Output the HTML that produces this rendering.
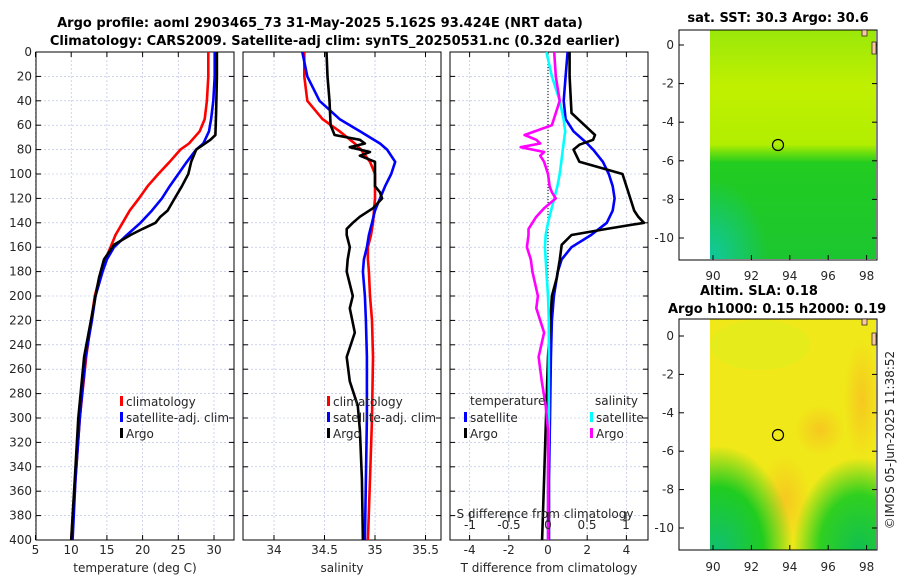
<!DOCTYPE html>
<html><head><meta charset="utf-8"><style>
body{margin:0;background:#fff;}
svg{display:block;font-family:"DejaVu Sans","Liberation Sans",sans-serif;}
.t{font-size:13px;font-weight:bold;fill:#000}
.tk{font-size:12px;fill:#262626}
.grid{stroke:#b0b8e0;stroke-width:0.6;stroke-dasharray:2,2}
</style></head><body>
<svg id="c" width="900" height="580">
<text class="t" x="320" y="27" text-anchor="middle">Argo profile: aoml 2903465_73 31-May-2025 5.162S 93.424E (NRT data)</text>
<text class="t" x="335" y="45" text-anchor="middle">Climatology: CARS2009. Satellite-adj clim: synTS_20250531.nc (0.32d earlier)</text>
<g id="plots"></g>
<defs>
<linearGradient id="sstg" x1="0" y1="0" x2="0" y2="1">
<stop offset="0" stop-color="#9ae80a"/><stop offset="0.25" stop-color="#c0f000"/><stop offset="0.5" stop-color="#b2ee00"/><stop offset="0.54" stop-color="#66dd10"/><stop offset="0.58" stop-color="#22cc20"/><stop offset="1" stop-color="#1cc630"/>
</linearGradient>
<radialGradient id="teal" cx="0" cy="1" r="0.35"><stop offset="0" stop-color="#10c8a0"/><stop offset="1" stop-color="#10c8a0" stop-opacity="0"/></radialGradient>
<radialGradient id="gL" cx="0.05" cy="1" r="0.45"><stop offset="0" stop-color="#10c070"/><stop offset="0.6" stop-color="#20cc20"/><stop offset="1" stop-color="#20cc20" stop-opacity="0"/></radialGradient>
<radialGradient id="gR" cx="0.9" cy="1" r="0.4"><stop offset="0" stop-color="#10c050"/><stop offset="0.6" stop-color="#30d020"/><stop offset="1" stop-color="#30d020" stop-opacity="0"/></radialGradient>
<radialGradient id="o1" cx="0.5" cy="0.5" r="0.5"><stop offset="0" stop-color="#f6c820"/><stop offset="1" stop-color="#f6c820" stop-opacity="0"/></radialGradient>
</defs>
<g>
<text class="t" x="778" y="22" text-anchor="middle">sat. SST: 30.3 Argo: 30.6</text>
<rect x="710" y="30" width="166" height="229" fill="url(#sstg)"/>
<rect x="710" y="30" width="166" height="229" fill="url(#teal)"/>
<rect x="679" y="30" width="198" height="230" fill="none" stroke="#000"/>
<circle cx="778" cy="145" r="5.5" fill="none" stroke="#000" stroke-width="1.2"/>
</g>
<g>
<text class="t" x="700" y="295">Altim. SLA: 0.18</text>
<text class="t" x="668" y="313">Argo h1000: 0.15 h2000: 0.19</text>
<rect x="710" y="319" width="166" height="231" fill="#f0e818"/>
<ellipse cx="760" cy="345" rx="50" ry="25" fill="#dcf020" opacity="0.5"/>
<ellipse cx="785" cy="500" rx="25" ry="45" fill="url(#o1)"/>
<ellipse cx="820" cy="430" rx="25" ry="25" fill="url(#o1)"/>
<ellipse cx="862" cy="400" rx="18" ry="60" fill="url(#o1)"/>
<rect x="710" y="319" width="166" height="231" fill="url(#gL)"/>
<rect x="710" y="319" width="166" height="231" fill="url(#gR)"/>
<rect x="679" y="319" width="198" height="231" fill="none" stroke="#000"/>
<circle cx="778" cy="435" r="5.5" fill="none" stroke="#000" stroke-width="1.2"/>
</g>
<text class="tk" transform="translate(894,440) rotate(-90)" text-anchor="middle">©IMOS 05-Jun-2025 11:38:52</text>
</svg>
<script>
const depths=[0,20,40,55,65,75,80,90,100,110,120,130,140,150,160,170,180,200,220,250,300,350,400];
const tClim=[29.2,29.2,29.0,28.7,28.0,26.5,25.3,23.8,22.2,20.7,19.5,18.2,17.2,16.2,15.5,14.8,14.2,13.3,12.8,12.1,11.2,10.6,10.0];
const tSat=[30.1,30.1,29.9,29.6,29.3,28.5,27.5,26.2,25.0,23.8,22.7,21.3,19.7,17.8,16.0,15.0,14.4,13.4,12.9,12.0,11.2,10.6,10.2];
const argoDepths=[0,20,50,68,72,76,80,90,100,110,120,130,135,140,145,150,158,170,185,200,250,300,350,400];
const tArgo=[30.4,30.4,30.3,30.2,29.5,28.5,27.5,26.8,26.4,25.5,24.5,23.5,22.5,21.8,20.0,18.3,16.0,14.6,13.9,13.4,11.8,11.0,10.5,10.0];
const sClim=[34.3,34.3,34.33,34.48,34.65,34.8,34.86,34.95,35.0,35.0,35.0,34.99,34.98,34.96,34.93,34.93,34.94,34.95,34.97,34.98,34.97,34.95,34.93];
const sSat=[34.28,34.33,34.45,34.65,34.85,35.05,35.12,35.2,35.16,35.1,35.05,35.0,34.97,34.94,34.92,34.89,34.88,34.9,34.91,34.92,34.92,34.91,34.9];
const sArgoDepths=[0,20,40,60,68,72,75,78,82,85,90,100,110,115,120,128,135,140,145,150,160,170,180,200,210,230,250,270,290,310,350,400];
const sArgo=[34.52,34.53,34.55,34.56,34.6,34.85,34.9,34.75,34.95,34.85,35.0,35.0,35.0,35.05,35.07,34.98,34.85,34.78,34.72,34.72,34.75,34.73,34.72,34.78,34.75,34.8,34.72,34.75,34.83,34.85,34.87,34.88];
const dtSat=[1.0,0.9,0.8,0.9,1.3,2.0,2.3,2.8,3.1,3.3,3.4,3.3,3.0,2.2,1.2,0.7,0.5,0.3,0.2,0.15,0.1,0.05,0.05];
const dtArgo=[1.1,1.1,1.2,2.4,2.3,1.6,1.3,1.6,3.8,4.0,4.2,4.4,4.6,4.9,3.0,1.2,0.7,0.6,0.45,0.2,0.0,-0.1,-0.2,-0.3];
const dsSat=[-0.02,0.05,0.15,0.2,0.22,0.2,0.19,0.17,0.15,0.12,0.08,0.04,0.0,-0.03,-0.04,-0.03,-0.02,0.0,0.01,0.01,0.01,0.0,0.0];
const dsArgo=[0.08,0.1,0.15,0.05,-0.3,-0.15,-0.1,-0.35,-0.05,-0.1,-0.05,0.0,0.02,0.05,0.1,-0.05,-0.15,-0.2,-0.25,-0.25,-0.27,-0.22,-0.2,-0.13,-0.15,-0.05,-0.12,-0.08,-0.03,0.0,0.0,0.0];
const depthTicks=[0,20,40,60,80,100,120,140,160,180,200,220,240,260,280,300,320,340,360,380,400];
const tTicks=[5,10,15,20,25,30];
const sTicks=[34,34.5,35,35.5];
const dtTicks=[-4,-2,0,2,4];
const dsTicks=[-1,-0.5,0,0.5,1];
const latTicks=[0,-2,-4,-6,-8,-10];
const lonTicks=[90,92,94,96,98];

const NS='http://www.w3.org/2000/svg';
const root=document.getElementById('plots');
const svg=document.getElementById('c');
function mk(tag,at,parent){const e=document.createElementNS(NS,tag);for(const k in at)e.setAttribute(k,at[k]);(parent||root).appendChild(e);return e;}
const Y0=52,Y1=540;
const yD=d=>Y0+(Y1-Y0)*d/400;
const xT=v=>35.5+(v-5)*7.14;
const xS=v=>274+(v-34)*101;
const xDT=v=>548+v*19.6;
const xDS=v=>548+v*78;

function line(xs,ds,fx,color,name){
  const p=xs.map((v,i)=>fx(v).toFixed(1)+','+yD(ds[i]).toFixed(1)).join(' ');
  const e=mk('polyline',{points:p,fill:'none',stroke:color,'stroke-width':2.6,'stroke-linejoin':'round'});
  
  
}
function panel(x0,x1,ticks,fx,name,showY,label){
  const g=mk('g',{});
  
  
  depthTicks.forEach(d=>{mk('line',{x1:x0,x2:x1,y1:yD(d),y2:yD(d),class:'grid'},g);
    mk('line',{x1:x0,x2:x0+5,y1:yD(d),y2:yD(d),stroke:'#000'},g);mk('line',{x1:x1-5,x2:x1,y1:yD(d),y2:yD(d),stroke:'#000'},g);
    if(showY){const t=mk('text',{x:x0-4,y:yD(d)+4,'text-anchor':'end',class:'tk'},g);t.textContent=d;}});
  ticks.forEach(v=>{const x=fx(v);if(x<x0-1||x>x1+1)return;mk('line',{x1:x,x2:x,y1:Y0,y2:Y1,class:'grid'},g);
    mk('line',{x1:x,x2:x,y1:Y1,y2:Y1-5,stroke:'#000'},g);mk('line',{x1:x,x2:x,y1:Y0,y2:Y0+5,stroke:'#000'},g);
    const t=mk('text',{x:x,y:554,'text-anchor':'middle',class:'tk'},g);t.textContent=v;});
  mk('rect',{x:x0,y:Y0,width:x1-x0,height:Y1-Y0,fill:'none',stroke:'#000'},g);
  const t=mk('text',{x:(x0+x1)/2,y:572,'text-anchor':'middle',class:'tk'},g);t.textContent=label;
  return g;
}
panel(36,234,tTicks,xT,'temperature-panel',true,'temperature (deg C)');
panel(243,441,sTicks,xS,'salinity-panel',false,'salinity');
panel(450,648,dtTicks,xDT,'difference-panel',false,'T difference from climatology');
mk('line',{x1:548,x2:548,y1:Y0,y2:Y1,stroke:'#000','stroke-dasharray':'1,2'});
line(tClim,depths,xT,'#ff0000','temp-climatology-line');
line(tSat,depths,xT,'#0000ff','temp-satellite-line');
line(tArgo,argoDepths,xT,'#000000','temp-argo-line');
line(sClim,depths,xS,'#ff0000','sal-climatology-line');
line(sSat,depths,xS,'#0000ff','sal-satellite-line');
line(sArgo,sArgoDepths,xS,'#000000','sal-argo-line');
line(dtSat,depths,xDT,'#0000ff','dt-satellite-line');
line(dtArgo,argoDepths,xDT,'#000000','dt-argo-line');
line(dsSat,depths,xDS,'#00ffff','ds-satellite-line');
line(dsArgo,sArgoDepths,xDS,'#ff00ff','ds-argo-line');
dsTicks.forEach(v=>{const x=xDS(v);mk('line',{x1:x,x2:x,y1:Y1-28,y2:Y1-18,stroke:'#000'});
  const t=mk('text',{x:x,y:Y1-11,'text-anchor':'middle',class:'tk'});t.textContent=v;});
{const t=mk('text',{x:545,y:Y1-22,'text-anchor':'middle',class:'tk'});t.textContent='S difference from climatology';
}
function legend(x,y,color,label,name){
  const g=mk('g',{});
  
  
  mk('rect',{x:x,y:y-9,width:3,height:10,fill:color},g);
  const t=mk('text',{x:x+6,y:y+1,class:'tk'},g);t.textContent=label;
}
legend(120,405,'#ff0000','climatology','legend-temp-climatology');
legend(120,421,'#0000ff','satellite-adj. clim','legend-temp-satellite');
legend(120,437,'#000000','Argo','legend-temp-argo');
legend(327,405,'#ff0000','climatology','legend-sal-climatology');
legend(327,421,'#0000ff','satellite-adj. clim','legend-sal-satellite');
legend(327,437,'#000000','Argo','legend-sal-argo');
{const t=mk('text',{x:470,y:405,class:'tk'});t.textContent='temperature';}
{const t=mk('text',{x:595,y:405,class:'tk'});t.textContent='salinity';}
legend(464,421,'#0000ff','satellite','legend-dt-satellite');
legend(464,437,'#000000','Argo','legend-dt-argo');
legend(590,421,'#00ffff','satellite','legend-ds-satellite');
legend(590,437,'#ff00ff','Argo','legend-ds-argo');
function mapAxes(top,lat0,lat10,frameBottom,labY,name){
  const g=document.createElementNS(NS,'g');svg.appendChild(g);
  
  
  latTicks.forEach(v=>{const y=lat0+(lat10-lat0)*(-v/10);
    mk('line',{x1:679,x2:684,y1:y,y2:y,stroke:'#000'},g);mk('line',{x1:872,x2:877,y1:y,y2:y,stroke:'#000'},g);
    const t=mk('text',{x:674,y:y+4,'text-anchor':'end',class:'tk'},g);t.textContent=v;});
  lonTicks.forEach(v=>{const x=713+(v-90)*19.2;
    mk('line',{x1:x,x2:x,y1:frameBottom,y2:frameBottom-5,stroke:'#000'},g);
    const t=mk('text',{x:x,y:labY,'text-anchor':'middle',class:'tk'},g);t.textContent=v;});
  mk('rect',{x:862,y:top,width:5,height:6,fill:'#f8c8a0',stroke:'#000','stroke-width':0.6},g);
  mk('rect',{x:872,y:lat0-3,width:4,height:12,fill:'#f8c8a0',stroke:'#000','stroke-width':0.6},g);
}
mapAxes(30,45,238,260,280,'sst-map-axes');
mapAxes(319,336,528,550,571,'sla-map-axes');
</script>
</body></html>
